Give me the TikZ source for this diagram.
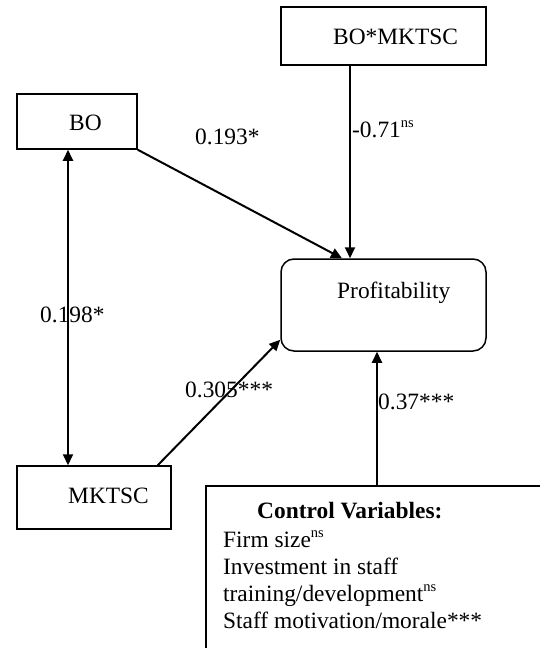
\documentclass[tikz,border=0pt]{standalone}
\usepackage{fontspec}
\setmainfont{Liberation Serif}
\usetikzlibrary{arrows.meta,calc}
\newcommand\nsup[1]{\raisebox{10pt}{\fontsize{14.5}{14.5}\selectfont #1}}
\tikzset{
  box/.style={draw, line width=1.5pt, inner sep=0pt},
  arr/.style={line width=2pt, -{Triangle[length=11pt,width=10pt]}},
  darr/.style={line width=2pt, {Triangle[length=11pt,width=10pt]}-{Triangle[length=11pt,width=10pt]}},
  txt/.style={anchor=base west, inner sep=0pt, font=\fontsize{23.4}{27}\selectfont},
}
\begin{document}
\begin{tikzpicture}[x=1pt,y=-1pt]
\useasboundingbox (0,0) rectangle (540,648);
\clip (0,0) rectangle (540,648);
% boxes
\node[box, minimum width=205pt, minimum height=58pt] (bomk) at (383.5,36) {};
\node[box, minimum width=120pt, minimum height=55pt] (bo) at (77,121.5) {};
\node[box, rounded corners=13pt, minimum width=205pt, minimum height=92pt] (prof) at (383.5,305) {};
\node[box, minimum width=154pt, minimum height=63pt] (mk) at (94,497.5) {};
\node[box, anchor=north west, minimum width=420pt, minimum height=260pt] (ctrl) at (205,485) {};
% box texts
\node[txt] (tbomk) at (333,44) {BO*MKTSC};
\node[txt] (tbo) at (69,130) {BO};
\node[txt] (tprof) at (337,298) {Profitability};
\node[txt] (tmk) at (68,503) {MKTSC};
\node[txt] (tcv) at (257,518) {\bfseries Control Variables:};
\node[txt] (t1) at (223,547) {Firm size\nsup{ns}};
\node[txt] (t2) at (223,574) {Investment in staff};
\node[txt] (t3) at (223,601) {training/development\nsup{ns}};
\node[txt] (t4) at (223,628) {Staff motivation/morale***};
% connectors
\coordinate (a1) at ([xshift=-33.5pt]bomk.south);
\draw[arr] (a1) -- (a1 |- prof.north);
\draw[arr] (bo.south east) -- ([xshift=-41.5pt]prof.north);
\coordinate (a2) at ([xshift=-9pt]bo.south);
\draw[darr] (a2) -- (a2 |- mk.north);
\draw[arr] ([xshift=-14pt]mk.north east) -- ([yshift=12pt]prof.south west);
\coordinate (a3) at ([xshift=-6.5pt]ctrl.north west -| prof.south);
\draw[arr] (a3) -- (a3 |- prof.south);
% edge labels
\node[txt] (l1) at (195,144) {0.193*};
\node[txt] (l2) at (352,137) {-0.71\nsup{ns}};
\node[txt] (l3) at (40,322) {0.198*};
\node[txt] (l4) at (185,397) {0.305***};
\node[txt] (l5) at (378,409) {0.37***};
\end{tikzpicture}
\end{document}
